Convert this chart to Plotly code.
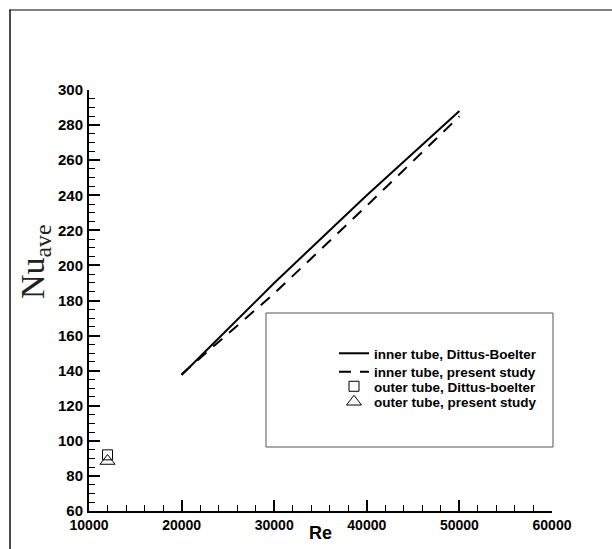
import plotly.graph_objects as go

# ---- data ----
re_inner = [20000, 30000, 40000, 50000]
nu_inner_db = [137.5, 190, 240, 288]
nu_inner_ps = [138, 184, 234, 285]
re_outer = [12000]
nu_outer_db = [92]
nu_outer_ps = [88.5]

names = ["inner tube, Dittus-Boelter", "inner tube, present study",
         "outer tube, Dittus-boelter", "outer tube, present study"]

# ---- layout geometry (pixels) ----
W, H = 612, 549
L, R, T, B = 89, 60, 90, 38
pw, ph = W - L - R, H - T - B


def px(x):
    return (x - L) / pw


def py(y):
    return (H - B - y) / ph


fig = go.Figure()
fig.add_trace(go.Scatter(x=re_inner, y=nu_inner_db, mode="lines", name=names[0],
                         legend="legend",
                         line=dict(color="black", width=2)))
fig.add_trace(go.Scatter(x=re_inner, y=nu_inner_ps, mode="lines", name=names[1],
                         legend="legend2",
                         line=dict(color="black", width=2, dash="12px,9px")))
fig.add_trace(go.Scatter(x=re_outer, y=nu_outer_db, mode="markers", name=names[2],
                         legend="legend3",
                         marker=dict(symbol="square-open", size=10, color="black",
                                     line=dict(width=1, color="black"))))
fig.add_trace(go.Scatter(x=re_outer, y=nu_outer_ps, mode="markers", name=names[3],
                         legend="legend4",
                         marker=dict(symbol="triangle-up-open", size=13, color="black",
                                     line=dict(width=1, color="black"))))

axfont = dict(family="Arial, Liberation Sans, sans-serif", color="black")
legfont = dict(family="Arial, Liberation Sans, sans-serif", size=13.5,
               color="black", weight="bold")


def leg(top):
    return dict(x=px(334), y=py(top), xanchor="left", yanchor="top",
                bgcolor="rgba(0,0,0,0)", borderwidth=0, font=legfont)


fig.update_layout(
    width=W, height=H,
    margin=dict(l=L, r=R, t=T, b=B),
    paper_bgcolor="white", plot_bgcolor="white",
    showlegend=True,
    legend=leg(338),
    legend2=leg(356.5),
    legend3=leg(371),
    legend4=leg(386.5),
    xaxis=dict(range=[10000, 60000], showgrid=False, zeroline=False,
               showline=True, linecolor="black", linewidth=2,
               ticks="inside", ticklen=11, tickwidth=2, tickcolor="black",
               tickmode="linear", tick0=10000, dtick=10000, tickformat="d",
               minor=dict(ticks="inside", ticklen=6, tickwidth=1, tickcolor="black",
                          dtick=2000, showgrid=False),
               tickfont=dict(size=14, weight="bold", **axfont)),
    yaxis=dict(range=[60, 300], showgrid=False, zeroline=False,
               showline=True, linecolor="black", linewidth=2,
               ticks="inside", ticklen=11, tickwidth=2, tickcolor="black",
               tickmode="linear", tick0=60, dtick=20, tickformat="d",
               minor=dict(ticks="inside", ticklen=6, tickwidth=1, tickcolor="black",
                          dtick=5, showgrid=False),
               tickfont=dict(size=15, weight="bold", **axfont),
               ticklabelstandoff=1),
)

# x-axis title
fig.add_annotation(text="Re", xref="paper", yref="paper",
                   x=px(320), y=py(533), xanchor="center", yanchor="middle",
                   showarrow=False,
                   font=dict(size=18, weight="bold", **axfont))

# y-axis title as rotated annotation
fig.add_annotation(text="Nu<sub>ave</sub>", xref="paper", yref="paper",
                   x=px(35), y=py(262), xanchor="center", yanchor="middle",
                   textangle=-90, showarrow=False,
                   font=dict(family="Liberation Serif, Times New Roman, serif",
                             size=34, color="#222"))

# legend box
fig.add_shape(type="rect", xref="paper", yref="paper",
              x0=px(266), x1=px(553), y0=py(447), y1=py(313),
              line=dict(color="#555", width=1), fillcolor="rgba(0,0,0,0)")

# outer frame (top and left edges)
fig.add_shape(type="line", xref="paper", yref="paper",
              x0=px(9), x1=px(612), y0=py(10), y1=py(10),
              line=dict(color="#808080", width=2))
fig.add_shape(type="line", xref="paper", yref="paper",
              x0=px(10), x1=px(10), y0=py(10), y1=py(549),
              line=dict(color="#111", width=1.5))

fig.write_html("out.html",
               config={"displayModeBar": False},
               post_script="document.body.style.margin='0';document.body.style.padding='0';")
